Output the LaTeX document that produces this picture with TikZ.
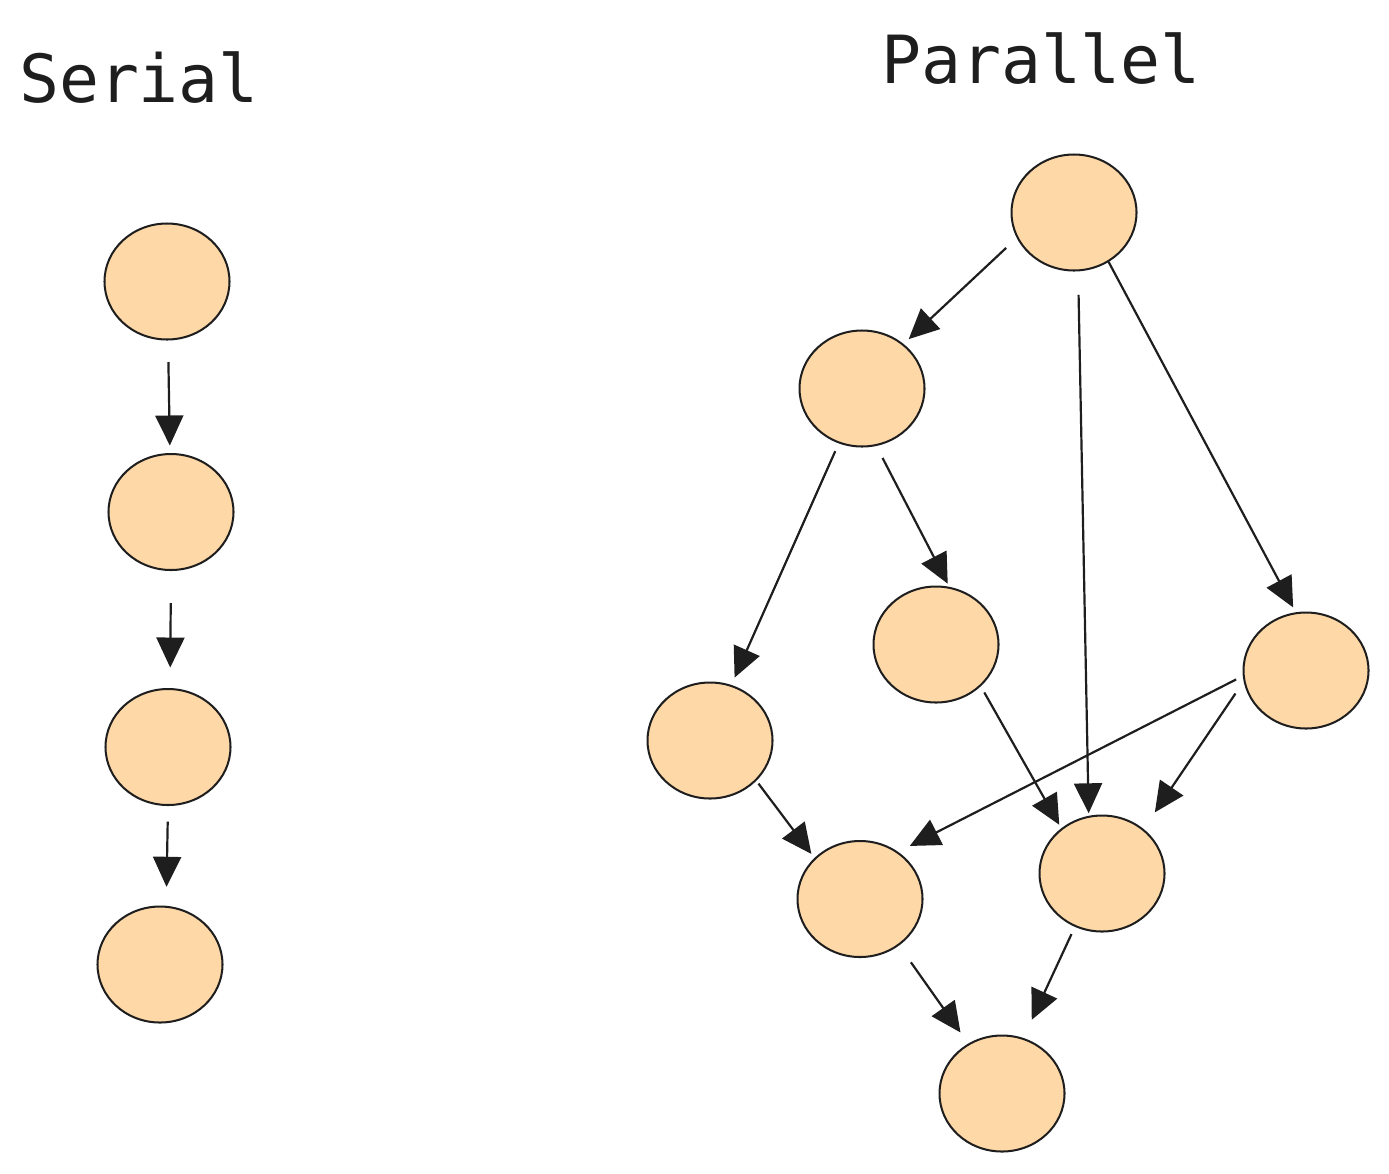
\documentclass[tikz,border=0pt]{standalone}
\usepackage{fontspec}
\setmonofont{DejaVu Sans Mono}
\usepackage{tikz}
\usetikzlibrary{arrows.meta,shapes.geometric,positioning}
\definecolor{taskfill}{HTML}{FFD8A8}
\definecolor{ink}{HTML}{1E1E1E}
\tikzstyle{edge}  =[draw=ink, line width=1.25pt,
                    -{Triangle[length=0.6cm, width=0.56cm]}]
\begin{document}
\begin{tikzpicture}[task/.style = {draw=ink, fill=taskfill, ellipse,
        minimum width=2.5cm, minimum height=2.32cm, line width=1.15pt,
        inner sep=0pt}, title/.style = {anchor=base, inner sep=0pt,
        text=ink, font=\ttfamily\fontsize{37.8}{45}\selectfont}, on grid]
    \useasboundingbox (0,0) rectangle (27.78,-23.46);
    % serial chain
    \node (serial) [title] at (2.78,-2.04) {Serial};
    \node (s1) [task] at (3.34,-5.63) {};
    \node (s2) [task, below right=4.61cm and 0.08cm of s1] {};
    \node (s3) [task, below left=4.70cm and 0.06cm of s2] {};
    \node (s4) [task, below left=4.35cm and 0.16cm of s3] {};
    \draw[edge, shorten <=0.43cm, shorten >=0.15cm] (s1.271) -- (s2.91);
    \draw[edge, shorten <=0.64cm, shorten >=0.41cm] (s2.270) -- (s3.88);
    \draw[edge, shorten <=0.31cm, shorten >=0.38cm] (s3.270) -- (s4.84);
    % parallel graph
    \node (parallel) [title] at (20.82,-1.66) {Parallel};
    \node (p1) [task] at (21.48,-4.25) {};
    \node (p2) [task, below left=3.52cm and 4.24cm of p1] {};
    \node (p3) [task, below right=5.12cm and 1.48cm of p2] {};
    \node (p4) [task, below right=9.16cm and 4.64cm of p1] {};
    \node (p5) [task, below left=7.04cm and 3.04cm of p2] {};
    \node (p6) [task, below right=3.17cm and 3.00cm of p5] {};
    \node (p7) [task, above right=0.51cm and 4.84cm of p6] {};
    \node (p8) [task, below right=3.89cm and 2.84cm of p6] {};
    \draw[edge, shorten <=0.29cm, shorten >=0.14cm] (p1.204.5) -- (p2.47.4);
    \draw[edge, shorten <=0.47cm, shorten >=0.05cm] (p1.274.2) -- (p7.103.9);
    \draw[edge, shorten <=0cm, shorten >=0.11cm] (p1.305.1) -- (p4.100.8);
    \draw[edge, shorten <=0.17cm, shorten >=0.16cm] (p2.247.3) -- (p5.69.6);
    \draw[edge, shorten <=0.27cm, shorten >=0.07cm] (p2.284.5) -- (p3.77);
    \draw[edge, shorten <=0.14cm, shorten >=0.08cm] (p3.317.3) -- (p7.132.2);
    \draw[edge, shorten <=0.15cm, shorten >=0.26cm] (p4.185) -- (p6.51.1);
    \draw[edge, shorten <=0.29cm, shorten >=0.40cm] (p4.190.8) -- (p7.47.9);
    \draw[edge, shorten <=0.07cm, shorten >=0.10cm] (p5.319.7) -- (p6.138.4);
    \draw[edge, shorten <=0.41cm, shorten >=0.27cm] (p6.310) -- (p8.124.7);
    \draw[edge, shorten <=0.16cm, shorten >=0.40cm] (p7.243.6) -- (p8.69.8);
\end{tikzpicture}
\end{document}
